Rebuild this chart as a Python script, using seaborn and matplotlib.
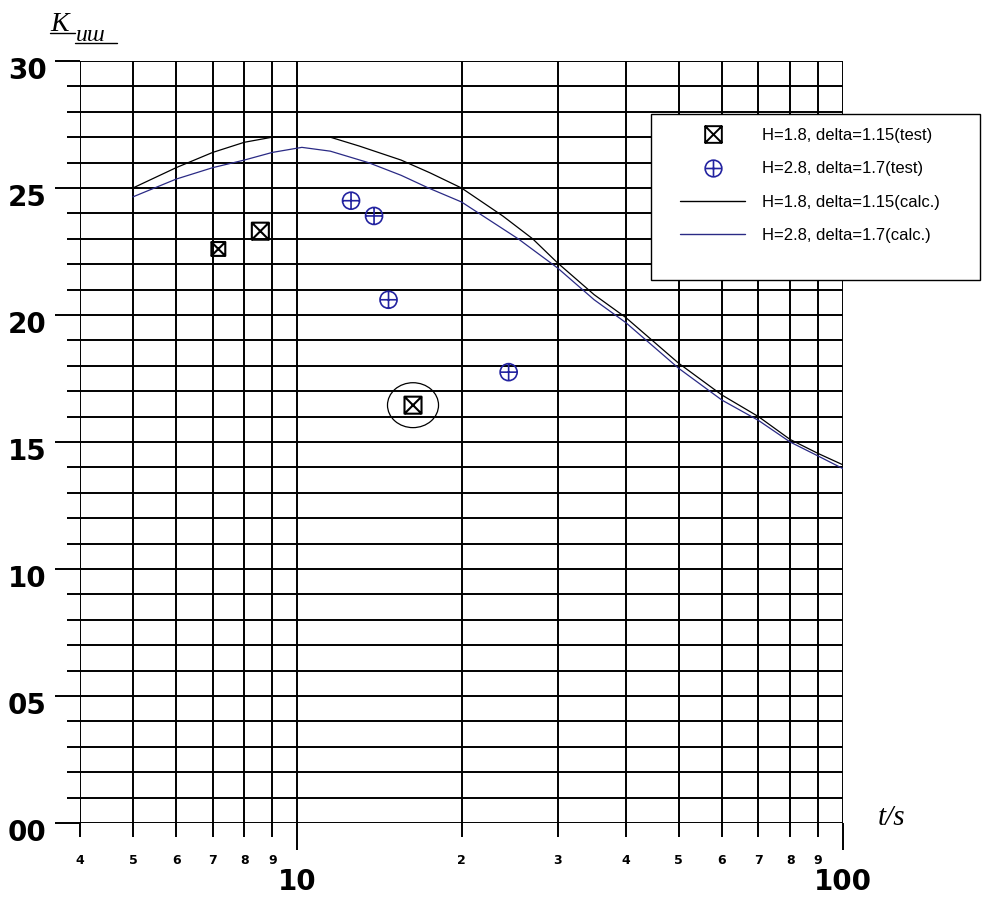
import numpy as np
import matplotlib
matplotlib.use("Agg")
import matplotlib.pyplot as plt
import seaborn as sns
from matplotlib.path import Path
from matplotlib.lines import Line2D
from matplotlib.patches import Rectangle
from matplotlib.ticker import FixedLocator, FixedFormatter
from matplotlib.transforms import ScaledTranslation

# calculated curves (t/s, K)
t_calc_18 = [5, 6, 7, 8, 9, 10, 11.5, 13, 15.5, 17.5, 20, 23.8, 27, 30, 35, 40, 50, 60, 70, 80, 90, 100]
k_calc_18 = [25.0, 25.8, 26.4, 26.8, 27.0, 27.0, 27.0, 26.65, 26.1, 25.6, 25.0, 23.9, 23.0, 22.05,
             20.8, 19.9, 18.1, 16.85, 16.0, 15.1, 14.55, 14.1]
t_calc_28 = [5, 6, 7, 8, 9, 10.2, 11.5, 13.5, 15.5, 17.4, 20, 25.4, 30, 35, 40, 50, 60, 70, 80, 90, 100]
k_calc_28 = [24.65, 25.35, 25.8, 26.1, 26.4, 26.6, 26.45, 26.0, 25.5, 25.0, 24.45, 23.0, 21.85, 20.6,
             19.7, 17.9, 16.65, 15.85, 15.0, 14.45, 13.95]

# test points
t_test_18 = [7.17, 8.56, 16.3]
k_test_18 = [22.6, 23.3, 16.45]
size_test_18 = [100, 150, 150]
t_test_28 = [12.55, 13.83, 14.7, 24.4]
k_test_28 = [24.5, 23.9, 20.6, 17.75]
# the circled point
t_mark = [16.3]
k_mark = [16.45]

labels = ["H=1.8, delta=1.15(test)", "H=2.8, delta=1.7(test)",
          "H=1.8, delta=1.15(calc.)", "H=2.8, delta=1.7(calc.)"]

x_major = [10, 100]
x_major_labels = ["10", "100"]
x_minor = [4, 5, 6, 7, 8, 9, 20, 30, 40, 50, 60, 70, 80, 90]
x_minor_labels = ["4", "5", "6", "7", "8", "9", "2", "3", "4", "5", "6", "7", "8", "9"]
y_major = [0, 5, 10, 15, 20, 25, 30]
y_major_labels = ["00", "05", "10", "15", "20", "25", "30"]
y_minor = [v for v in range(31) if v % 5 != 0]

blue_pt = "#2323a0"
blue_ln = "#2a2a85"

# marker shapes
M, L, C = Path.MOVETO, Path.LINETO, Path.CLOSEPOLY
box_x = Path([(-1, -1), (1, -1), (1, 1), (-1, 1), (-1, -1), (-1, -1), (1, 1), (1, -1), (-1, 1)],
             [M, L, L, L, C, M, L, M, L])
circ = Path.unit_circle()
circ_plus = Path.make_compound_path(circ, Path([(-1, 0), (1, 0), (0, -1), (0, 1)], [M, L, M, L]))
ellipse = Path(circ.vertices * np.array([1.0, 0.88]), circ.codes)

sns.set_style("white")
plt.rcParams["text.color"] = "black"
plt.rcParams["xtick.color"] = "black"
plt.rcParams["ytick.color"] = "black"

W, H = 982, 899
fig = plt.figure(figsize=(W / 100, H / 100), dpi=100)


def px(x, y):
    return x / W, 1 - y / H


ax = fig.add_axes([80 / W, 1 - 823 / H, (843 - 80) / W, (823 - 61) / H])
ax.set_xscale("log")

sns.lineplot(x=t_calc_18, y=k_calc_18, ax=ax, color="black", linewidth=0.9, zorder=4)
sns.lineplot(x=t_calc_28, y=k_calc_28, ax=ax, color=blue_ln, linewidth=0.9, zorder=4)

ax.scatter(t_test_18, k_test_18, s=size_test_18, marker=box_x, facecolors="none",
           edgecolors="black", linewidths=1.5, zorder=5)
ax.scatter(t_test_28, k_test_28, s=150, marker=circ_plus, facecolors="none",
           edgecolors=blue_pt, linewidths=1.2, zorder=5)
ax.scatter(t_mark, k_mark, s=1350, marker=ellipse, facecolors="none",
           edgecolors="black", linewidths=0.9, zorder=5)

ax.set_xlim(4, 100)
ax.set_ylim(0, 30)
ax.xaxis.set_major_locator(FixedLocator(x_major))
ax.xaxis.set_major_formatter(FixedFormatter(x_major_labels))
ax.xaxis.set_minor_locator(FixedLocator(x_minor))
ax.xaxis.set_minor_formatter(FixedFormatter(x_minor_labels))
ax.set_yticks(y_major, y_major_labels)
ax.set_yticks(y_minor, minor=True)

ax.grid(True, which="both", color="black", linewidth=1.4)
ax.set_axisbelow(True)
for s in ax.spines.values():
    s.set_visible(False)

ax.tick_params(axis="y", which="major", left=True, direction="out", length=18, width=1.4, pad=6,
               color="black", labelcolor="black")
ax.tick_params(axis="y", which="minor", left=True, direction="out", length=9.5, width=1.4, color="black")
ax.tick_params(axis="x", which="major", bottom=True, direction="out", length=19.5, width=1.4, pad=13,
               color="black", labelcolor="black")
ax.tick_params(axis="x", which="minor", bottom=True, direction="out", length=10, width=1.4, pad=12,
               color="black", labelcolor="black")

for lab in ax.get_yticklabels():
    lab.set_fontsize(20)
    lab.set_fontweight("heavy")
    lab.set_transform(lab.get_transform() + ScaledTranslation(0, -0.07, fig.dpi_scale_trans))
for lab in ax.get_xticklabels():
    lab.set_fontsize(20)
    lab.set_fontweight("heavy")
for lab in ax.get_xticklabels(minor=True):
    lab.set_fontsize(9)
    lab.set_fontweight("bold")

# axis titles
fig.text(*px(50, 31), "K", fontsize=20, family="Liberation Serif", style="italic",
         ha="left", va="baseline")
fig.text(*px(76, 41), "иш", fontsize=17, family="Liberation Serif", style="italic",
         ha="left", va="baseline")
fig.add_artist(Line2D([50 / W, 75 / W], [1 - 33 / H, 1 - 33 / H], color="black", lw=1))
fig.add_artist(Line2D([75 / W, 117 / W], [1 - 43 / H, 1 - 43 / H], color="black", lw=1))
fig.text(*px(892, 818), "t/s", fontsize=21, family="Liberation Serif", style="italic",
         ha="center", va="center")

# legend box
fig.add_artist(Rectangle(px(651, 280), (980 - 651) / W, (280 - 114) / H, transform=fig.transFigure,
                         facecolor="white", edgecolor="black", linewidth=1, zorder=5))
handles = [
    Line2D([], [], ls="none", marker=box_x, mfc="none", mec="black", ms=12, mew=1.4),
    Line2D([], [], ls="none", marker=circ_plus, mfc="none", mec=blue_pt, ms=12, mew=1.2),
    Line2D([], [], color="black", lw=1),
    Line2D([], [], color=blue_ln, lw=1),
]
leg = fig.legend(handles, labels, loc="upper left", bbox_to_anchor=px(680, 128), frameon=False,
                 prop={"family": "Liberation Sans", "size": 12}, handlelength=3.9,
                 handletextpad=1.05, labelspacing=1.1, borderaxespad=0, borderpad=0)
leg.set_zorder(6)

fig.savefig("out.png", dpi=100)
